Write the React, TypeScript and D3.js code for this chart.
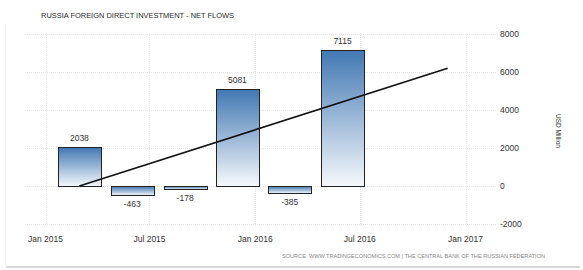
import React from "react";
import * as d3 from "d3";

const title = "RUSSIA FOREIGN DIRECT INVESTMENT - NET FLOWS";
const source = "SOURCE: WWW.TRADINGECONOMICS.COM | THE CENTRAL BANK OF THE RUSSIAN FEDERATION";
const periods = ["2015-03-01", "2015-06-01", "2015-09-01", "2015-12-01", "2016-03-01", "2016-06-01"];
const values = [2038, -463, -178, 5081, -385, 7115];
const trendEnd = "2016-12-01";
const xTickDates = ["2015-01-01", "2015-07-01", "2016-01-01", "2016-07-01", "2017-01-01"];
const xTickLabels = ["Jan 2015", "Jul 2015", "Jan 2016", "Jul 2016", "Jan 2017"];
const yTicks = [-2000, 0, 2000, 4000, 6000, 8000];
const yLabel = "USD Million";

const W = 583;
const H = 270;
const FONT = "'Liberation Sans', Arial, sans-serif";

export default function App() {
  const parse = (s: string) => new Date(s + "T00:00:00");
  const x = d3.scaleTime().domain([parse("2015-01-01"), parse("2017-01-01")]).range([45.5, 465.5]);
  const y = d3.scaleLinear().domain([-2000, 8000]).range([224, 33.5]);
  const plotLeft = 25;
  const plotRight = 497;
  const barW = 43;

  // least squares trend over period index
  const n = values.length;
  const idx = d3.range(n);
  const mx = d3.mean(idx) as number;
  const my = d3.mean(values) as number;
  const sxy = d3.sum(idx, (i) => (i - mx) * (values[i] - my));
  const sxx = d3.sum(idx, (i) => (i - mx) * (i - mx));
  const slope = sxy / sxx;
  const intercept = my - slope * mx;
  const trendPts: [Date, number][] = [
    [parse(periods[0]), intercept],
    [parse(trendEnd), intercept + slope * 7],
  ];
  const line = d3
    .line<[Date, number]>()
    .x((d) => x(d[0]))
    .y((d) => y(d[1]));

  return (
    <svg width={W} height={H} style={{ position: "absolute", left: 0, top: 0, background: "#fff" }}>
      <defs>
        <linearGradient id="barGrad" x1="0" y1="0" x2="0" y2="1">
          <stop offset="0%" stopColor="#4278b3" />
          <stop offset="100%" stopColor="#f6f9fc" />
        </linearGradient>
      </defs>
      <rect x={0} y={0} width={W} height={H} fill="#fff" />
      <line x1={5.5} y1={25} x2={5.5} y2={266} stroke="#f0f0f0" />
      <line x1={6} y1={267} x2={580} y2={267} stroke="#d8d8d8" strokeWidth={2} />
      <text x={41} y={17.5} fontFamily={FONT} fontSize={7.5} fill="#2a2a2a" textLength={193} lengthAdjust="spacingAndGlyphs">
        {title}
      </text>
      {yTicks.map((t) => (
        <line key={"h" + t} x1={plotLeft} x2={plotRight} y1={Math.round(y(t)) + 0.5} y2={Math.round(y(t)) + 0.5} stroke="#e6e6e6" strokeDasharray="1,1" />
      ))}
      {xTickDates.map((d) => (
        <line key={"v" + d} x1={Math.round(x(parse(d))) + 0.5} x2={Math.round(x(parse(d))) + 0.5} y1={33} y2={227} stroke="#e6e6e6" strokeDasharray="1,1" />
      ))}
      {values.map((v, i) => {
        const cx = x(parse(periods[i]));
        const top = y(Math.max(0, v));
        const bot = y(Math.min(0, v));
        return (
          <g key={"b" + i}>
            <rect x={Math.round(cx - barW / 2) + 0.5} y={Math.round(top) + 0.5} width={barW} height={Math.max(1, Math.round(bot - top))} fill="url(#barGrad)" stroke="#222" strokeWidth={1} />
            <text x={cx} y={v >= 0 ? top - 6 : bot + 12} textAnchor="middle" fontFamily={FONT} fontSize={8.5} fill="#333">
              {v}
            </text>
          </g>
        );
      })}
      <path d={line(trendPts) || ""} fill="none" stroke="#111" strokeWidth={1.6} />
      {xTickDates.map((d, i) => (
        <text key={"xl" + d} x={x(parse(d))} y={242} textAnchor="middle" fontFamily={FONT} fontSize={8.5} fill="#333">
          {xTickLabels[i]}
        </text>
      ))}
      {yTicks.map((t) => (
        <text key={"yl" + t} x={500} y={y(t) + 3} fontFamily={FONT} fontSize={8.5} fill="#333">
          {t}
        </text>
      ))}
      <text transform={`translate(556,131) rotate(90)`} textAnchor="middle" fontFamily={FONT} fontSize={6.5} fill="#333">
        {yLabel}
      </text>
      <text x={282} y={258} fontFamily={FONT} fontSize={5.6} fill="#888" textLength={263} lengthAdjust="spacingAndGlyphs">
        {source}
      </text>
    </svg>
  );
}
